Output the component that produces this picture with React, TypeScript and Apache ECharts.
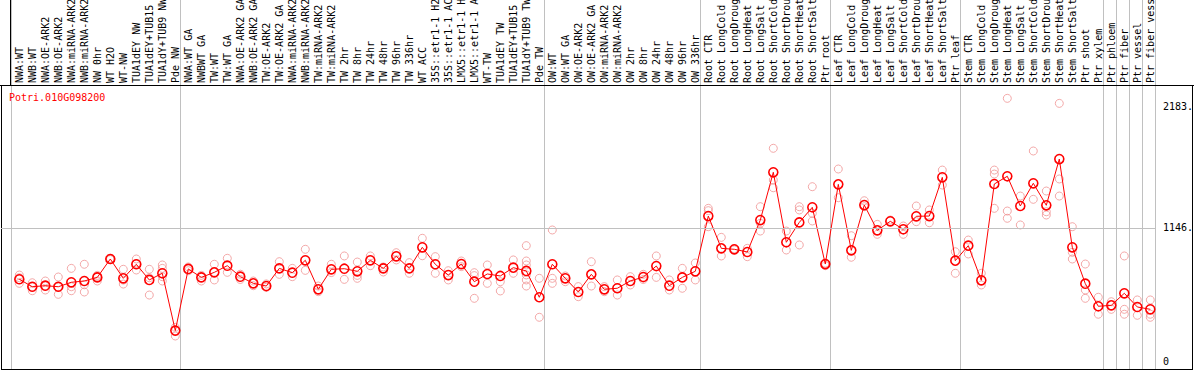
import React, { useEffect, useRef } from 'react';
import * as echarts from 'echarts';

const geneId = 'Potri.010G098200';

const categories = [
  'NWA:WT', 'NWB:WT', 'NWA:OE-ARK2', 'NWB:OE-ARK2', 'NWA:miRNA-ARK2', 'NWB:miRNA-ARK2', 'NW 0hr', 'WT H2O', 'WT-NW',
  'TUA1dEY NW', 'TUA1dEY+TUB15 NW', 'TUA1dY+TUB9 NW', 'Pde NW',
  'NWA:WT GA', 'NWBWT GA', 'TW:WT', 'TW:WT GA', 'NWA:OE-ARK2 GA', 'NWB:OE-ARK2 GA', 'TW:OE-ARK2', 'TW:OE-ARK2 GA',
  'NWA:miRNA-ARK2 GA', 'NWB:miRNA-ARK2 GA', 'TW:miRNA-ARK2', 'TW:miRNA-ARK2', 'TW 2hr', 'TW 8hr', 'TW 24hr', 'TW 48hr',
  'TW 96hr', 'TW 336hr', 'WT ACC', '35S::etr1-1 H2O', '35S::etr1-1 ACC', 'LMX5::etr1-1 H2O', 'LMX5::etr1-1 ACC',
  'WT-TW', 'TUA1dEY TW', 'TUA1dEY+TUB15 TW', 'TUA1dY+TUB9 TW', 'Pde TW',
  'OW:WT', 'OW:WT GA', 'OW:OE-ARK2', 'OW:OE-ARK2 GA', 'OW:miRNA-ARK2', 'OW:miRNA-ARK2 GA', 'OW 2hr', 'OW 8hr',
  'OW 24hr', 'OW 48hr', 'OW 96hr', 'OW 336hr',
  'Root CTR', 'Root LongCold', 'Root LongDrought', 'Root LongHeat', 'Root LongSalt', 'Root ShortCold',
  'Root ShortDrought', 'Root ShortHeat', 'Root ShortSalt', 'Ptr root',
  'Leaf CTR', 'Leaf LongCold', 'Leaf LongDrought', 'Leaf LongHeat', 'Leaf LongSalt', 'Leaf ShortCold',
  'Leaf ShortDrought', 'Leaf ShortHeat', 'Leaf ShortSalt', 'Ptr leaf',
  'Stem CTR', 'Stem LongCold', 'Stem LongDrought', 'Stem LongHeat', 'Stem LongSalt', 'Stem ShortCold',
  'Stem ShortDrought', 'Stem ShortHeat', 'Stem ShortSalt', 'Ptr shoot', 'Ptr xylem',
  'Ptr phloem', 'Ptr fiber', 'Ptr vessel', 'Ptr fiber vessel',
];

const means = [
  707, 643, 652, 643, 681, 692, 723, 880, 715, 835, 701, 758, 268,
  795, 723, 766, 823, 729, 672, 649, 800, 763, 869, 621, 792, 797, 775, 869, 800, 903, 800, 980, 835, 743, 837, 686,
  752, 735, 806, 778, 553,
  835, 715, 598, 749, 621, 630, 692, 726, 820, 652, 723, 775,
  1247, 971, 963, 940, 1213, 1621, 1023, 1193, 1322, 837,
  1518, 954, 1341, 1125, 1202, 1134, 1245, 1247, 1578, 866,
  994, 698, 1521, 1587, 1333, 1527, 1339, 1734, 980, 669, 476,
  484, 587, 470, 450,
];

const replicates = [
  [743, 672, 720], [677, 609, 640], [692, 615, 650], [726, 578, 640], [800, 643, 609], [835, 660, 598],
  [740, 692, 730], [880, 875, 885], [792, 666, 700], [880, 786, 840], [792, 572, 720], [829, 800, 729, 692],
  [296, 222],
  [812, 780], [740, 692], [835, 701], [886, 766], [750, 705], [692, 652], [667, 638], [857, 749], [800, 729],
  [963, 783], [649, 601], [835, 764], [906, 706], [854, 740, 715], [906, 823], [812, 769], [934, 872],
  [849, 758], [1057, 908], [900, 758], [780, 701], [863, 815], [763, 738, 544], [829, 672], [686, 607],
  [872, 758], [994, 863, 829, 744, 701, 649], [715, 382],
  [1128, 715, 672], [735, 686], [644, 558], [857, 649], [644, 601], [701, 572], [729, 658], [749, 705],
  [906, 723], [701, 615], [800, 630], [846, 701],
  [1313, 1293, 1156], [1065, 906], [968, 958], [971, 900], [1327, 1185, 1119], [1826, 1555, 1489],
  [1119, 957], [1327, 1299, 1000], [1498, 1270, 1205], [837, 823, 845],
  [1649, 1404], [1079, 895], [1378, 1327], [1176, 1091], [1213], [1162, 1091], [1333, 1199], [1299, 1190],
  [1640, 1512], [942, 758],
  [1042, 923], [758, 658], [1640, 1606, 1313], [2253, 1290, 1228], [1418, 1171], [1803, 1390],
  [1461, 1284, 1256], [2210, 1564, 1418], [1156, 937, 880], [837, 615, 544], [553, 408],
  [515, 450], [906, 450, 408], [530, 399], [530, 408, 382],
];

// index of the last category in each group (-1 = left edge)
const groupEnds = [-1, 12, 40, 52, 62, 72, 83, 84, 85, 86, 87];
const yMarks = [0, 1146, 2183];

const MONO = 'DejaVu Sans Mono';

export default function App() {
  const ref = useRef<HTMLDivElement>(null);

  useEffect(() => {
    document.body.style.margin = '0';
    const chart = echarts.init(ref.current!, null, { renderer: 'svg' });

    const repData: number[][] = [];
    replicates.forEach((arr, i) => arr.forEach((v) => repData.push([i, v])));

    chart.setOption({
      animation: false,
      grid: [
        { left: 1, top: 85, width: 1154, height: 284, containLabel: false, outerBoundsMode: 'none' },
        { left: 12.8, top: 85, width: 1144, height: 284, containLabel: false, outerBoundsMode: 'none' },
      ],
      xAxis: [
        { type: 'value', gridIndex: 0, min: -1.4077, max: 87.3615, show: false },
        {
          type: 'category', gridIndex: 1, position: 'top', data: categories,
          axisLine: { show: false, onZero: false }, axisTick: { show: false }, splitLine: { show: false },
          axisLabel: {
            rotate: -90, interval: 0, margin: 2, fontFamily: MONO, fontSize: 10, color: '#000',
            align: 'left', verticalAlign: 'middle', hideOverlap: false,
          },
        },
      ],
      yAxis: [
        { type: 'value', gridIndex: 0, min: -60, max: 2367, show: false },
        { type: 'value', gridIndex: 1, min: -60, max: 2367, show: false },
      ],
      series: [
        {
          type: 'scatter', xAxisIndex: 0, yAxisIndex: 0, data: repData,
          symbol: 'circle', symbolSize: 8, z: 2, silent: true,
          itemStyle: { color: 'rgba(0,0,0,0)', borderColor: '#f09494', borderWidth: 1 },
        },
        {
          type: 'line', xAxisIndex: 0, yAxisIndex: 0, data: means.map((v, i) => [i, v]),
          symbol: 'circle', symbolSize: 9, z: 3, silent: true,
          itemStyle: { color: 'rgba(0,0,0,0)', borderColor: '#ff0000', borderWidth: 1.6 },
          lineStyle: { color: '#ff0000', width: 1 },
          markLine: {
            silent: true, symbol: ['none', 'none'], animation: false,
            label: { position: 'end', distance: 8, fontFamily: MONO, fontSize: 10, color: '#000' },
            data: yMarks.map((v) => ({
              yAxis: v,
              lineStyle: v === 1146
                ? { color: '#c0c0c0', type: 'solid', width: 1 }
                : { color: 'rgba(0,0,0,0)', type: 'solid', width: 1 },
              label: { formatter: v === 0 ? '0' : v + '.', color: '#000' },
            })),
          },
        },
      ],
    });

    const xs = groupEnds.map((k) => chart.convertToPixel({ xAxisIndex: 0 }, k + 0.36) as number);
    const black = { stroke: '#000', lineWidth: 1 };
    chart.setOption({
      graphic: [
        ...xs.map((x) => ({
          type: 'line', z: 0, silent: true,
          shape: { x1: Math.round(x) + 0.5, y1: 0, x2: Math.round(x) + 0.5, y2: 369 },
          style: { stroke: '#c0c0c0', lineWidth: 1 },
        })),
        { type: 'line', silent: true, shape: { x1: Math.round(xs[0]) - 0.5, y1: 0, x2: Math.round(xs[0]) - 0.5, y2: 85 }, style: black },
        { type: 'line', silent: true, shape: { x1: 0, y1: 85.5, x2: 1194, y2: 85.5 }, style: black },
        { type: 'line', silent: true, shape: { x1: 1, y1: 369.5, x2: 1193, y2: 369.5 }, style: black },
        { type: 'line', silent: true, shape: { x1: 1.5, y1: 85, x2: 1.5, y2: 370 }, style: black },
        { type: 'line', silent: true, shape: { x1: 1192.5, y1: 85, x2: 1192.5, y2: 370 }, style: black },
        {
          type: 'text', silent: true, x: 9, y: 97,
          style: { text: geneId, fill: '#ff0000', font: `10px "${MONO}"`, verticalAlign: 'middle' },
        },
      ],
    });

    return () => chart.dispose();
  }, []);

  return <div ref={ref} style={{ width: 1194, height: 370 }} />;
}
